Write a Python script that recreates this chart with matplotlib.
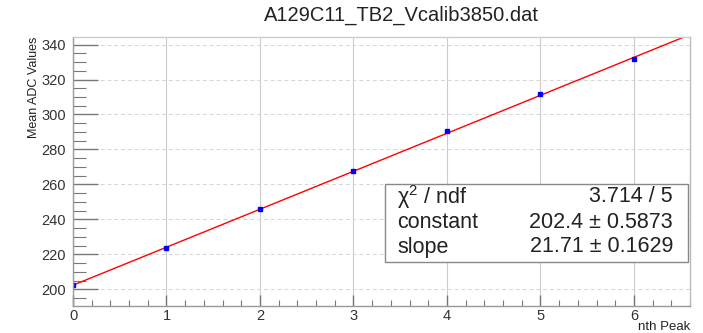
import numpy as np
import matplotlib.pyplot as plt
from matplotlib.ticker import MultipleLocator

plt.rcParams['font.family'] = ['Liberation Sans', 'DejaVu Sans']
plt.rcParams['mathtext.fontset'] = 'custom'
plt.rcParams['mathtext.rm'] = 'Liberation Sans'

# Données
peaks = [0, 1, 2, 3, 4, 5, 6]
mean_adc = [202.6, 223.6, 245.7, 267.6, 290.4, 311.6, 331.8]

# Paramètres de l'ajustement (pol1)
constant = 202.4
slope = 21.71
stats_labels = ["χ$^{2}$ / ndf", "constant", "slope"]
stats_values = ["3.714 / 5", "202.4 \u00b1 0.5873", "21.71 \u00b1 0.1629"]

fig = plt.figure(figsize=(7.03, 3.33), dpi=100)
ax = fig.add_axes([73 / 703, 1 - 306 / 333, (690 - 73) / 703, (306 - 37) / 333])

xfit = np.linspace(0, 6.6, 200)
ax.plot(xfit, constant + slope * xfit, color="red", lw=1.0)
ax.plot(peaks, mean_adc, "s", color="blue", ms=2.5)

ax.set_xlim(0, 6.6)
ax.set_ylim(190.5, 344.3)
ax.xaxis.set_major_locator(MultipleLocator(1))
ax.xaxis.set_minor_locator(MultipleLocator(0.2))
ax.yaxis.set_major_locator(MultipleLocator(20))
ax.yaxis.set_minor_locator(MultipleLocator(5))
ax.tick_params(which="both", direction="in", top=False, right=False,
               labelsize=10.5, colors="#333333")
ax.tick_params(which="major", axis="y", length=18, width=1, color="#777777", pad=5)
ax.tick_params(which="minor", axis="y", length=9, width=0.8, color="#777777")
ax.tick_params(which="major", axis="x", length=8, width=1, color="#777777", pad=2)
ax.tick_params(which="minor", axis="x", length=4, width=0.8, color="#777777")

ax.grid(axis="x", which="major", color="#cccccc", lw=0.8)
ax.grid(axis="y", which="major", color="#d5d5d5", lw=0.7, ls=(0, (4, 3)))
ax.set_axisbelow(True)
for s in ax.spines.values():
    s.set_color("#999999")
    s.set_linewidth(1)
ax.spines["top"].set_color("#cccccc")
ax.spines["right"].set_color("#bbbbbb")

fig.text(401 / 703, 1 - 15 / 333, "A129C11_TB2_Vcalib3850.dat",
         ha="center", va="center", fontsize=14.5, color="#222222")
ax.set_ylabel("Mean ADC Values", fontsize=9, color="#222222", labelpad=1, loc="top")
fig.text(690 / 703, 1 - 327 / 333, "nth Peak", ha="right", va="center",
         fontsize=9.5, color="#222222")

# Boîte de statistiques
bx0, bx1, by0, by1 = 385, 688, 184, 262
fig.patches.append(plt.Rectangle((bx0 / 703, 1 - by1 / 333), (bx1 - bx0) / 703,
                                 (by1 - by0) / 333, transform=fig.transFigure,
                                 facecolor="white", edgecolor="#888888", lw=1))
rows_y = [197, 222, 247]
for lab, val, yy in zip(stats_labels, stats_values, rows_y):
    fig.text(397 / 703, 1 - yy / 333, lab, ha="left", va="center",
             fontsize=15.5, color="#222222")
    fig.text(673 / 703, 1 - yy / 333, val, ha="right", va="center",
             fontsize=15.5, color="#222222")

fig.savefig("out.png", dpi=100)
